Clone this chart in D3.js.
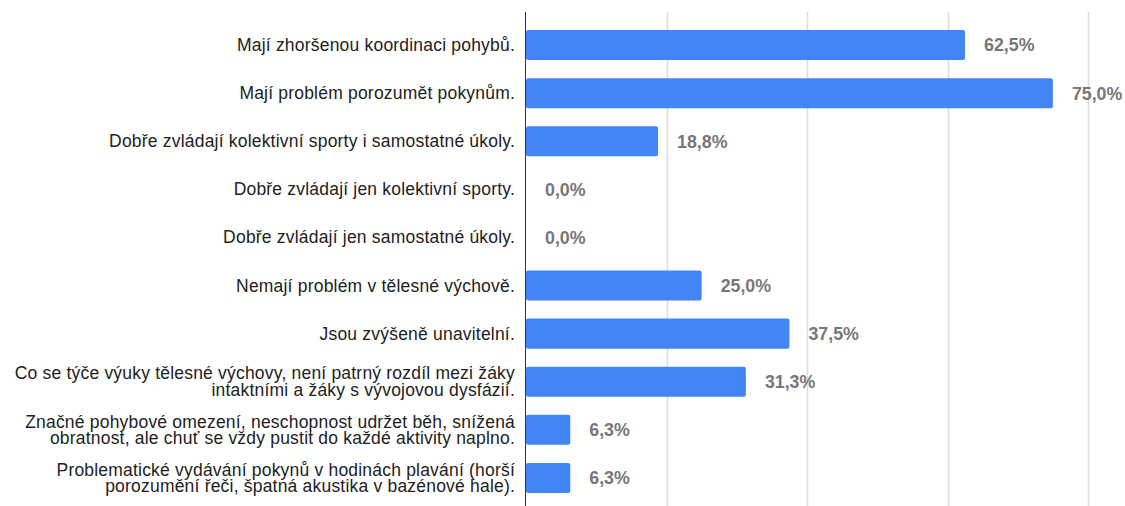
<!DOCTYPE html>
<html>
<head>
<meta charset="utf-8">
<script src="https://cdn.jsdelivr.net/npm/d3@7"></script>
<style>
  body { margin: 0; background: #fff; }
  svg { display: block; font-family: "Liberation Sans", Arial, Helvetica, sans-serif; }
</style>
</head>
<body>
<div id="chart"></div>
<script>
const WIDTH = 1125
const HEIGHT = 506

// data
const categories = [
  ['Mají zhoršenou koordinaci pohybů.'],
  ['Mají problém porozumět pokynům.'],
  ['Dobře zvládají kolektivní sporty i samostatné úkoly.'],
  ['Dobře zvládají jen kolektivní sporty.'],
  ['Dobře zvládají jen samostatné úkoly.'],
  ['Nemají problém v tělesné výchově.'],
  ['Jsou zvýšeně unavitelní.'],
  ['Co se týče výuky tělesné výchovy, není patrný rozdíl mezi žáky', 'intaktními a žáky s vývojovou dysfázií.'],
  ['Značné pohybové omezení, neschopnost udržet běh, snížená', 'obratnost, ale chuť se vždy pustit do každé aktivity naplno.'],
  ['Problematické vydávání pokynů v hodinách plavání (horší', 'porozumění řeči, špatná akustika v bazénové hale).']
]
const values = [62.5, 75.0, 18.8, 0.0, 0.0, 25.0, 37.5, 31.3, 6.3, 6.3]
const gridTicks = [0, 20, 40, 60, 80]

const MARGIN = { top: 12, right: 37, bottom: -5, left: 526 }
const LINE_HEIGHT = 16.5

const data = categories.map((c, i) => ({ id: i, lines: c, value: values[i] }))

const svg = d3.select('#chart')
  .append('svg')
    .attr('width', WIDTH)
    .attr('height', HEIGHT)

const x = d3.scaleLinear()
  .domain([0, 80])
  .range([MARGIN.left, WIDTH - MARGIN.right])

const y = d3.scaleBand()
  .domain(data.map((d) => d.id))
  .range([MARGIN.top, HEIGHT - MARGIN.bottom])
  .paddingInner(0.375)
  .paddingOuter(0.375)

const fmt = (v) => d3.format('.1f')(v).replace('.', ',') + '%'

// gridlines
svg.append('g')
    .attr('class', 'grid')
  .selectAll('line')
  .data(gridTicks.slice(1))
  .enter().append('line')
    .attr('x1', (d) => Math.round(x(d)) + 0.5)
    .attr('x2', (d) => Math.round(x(d)) + 0.5)
    .attr('y1', MARGIN.top)
    .attr('y2', HEIGHT)
    .attr('stroke', '#dcdcdc')
    .attr('stroke-width', 1.5)

// bars
svg.append('g')
  .selectAll('rect')
  .data(data.filter((d) => d.value > 0))
  .enter().append('rect')
    .attr('x', x(0))
    .attr('y', (d) => y(d.id))
    .attr('width', (d) => x(d.value) - x(0))
    .attr('height', y.bandwidth())
    .attr('rx', 2)
    .attr('fill', '#4285f4')

// axis line
svg.append('line')
  .attr('x1', x(0) - 0.5)
  .attr('x2', x(0) - 0.5)
  .attr('y1', MARGIN.top)
  .attr('y2', HEIGHT)
  .attr('stroke', '#333')
  .attr('stroke-width', 1)

// value labels
svg.append('g')
  .selectAll('text')
  .data(data)
  .enter().append('text')
    .attr('x', (d) => x(d.value) + 19)
    .attr('y', (d) => y(d.id) + y.bandwidth() / 2)
    .attr('dy', '0.36em')
    .attr('fill', '#777')
    .attr('font-weight', 'bold')
    .attr('font-size', 17.8)
    .text((d) => fmt(d.value))

// category labels
const labels = svg.append('g')
  .selectAll('text')
  .data(data)
  .enter().append('text')
    .attr('text-anchor', 'end')
    .attr('fill', '#222')
    .attr('font-size', 17.5)
    .attr('letter-spacing', 0.2)
    .attr('y', (d) => y(d.id) + y.bandwidth() / 2 + 6 - (d.lines.length - 1) * LINE_HEIGHT / 2)

labels.selectAll('tspan')
  .data((d) => d.lines.map((l, i) => ({ text: l, i: i })))
  .enter().append('tspan')
    .attr('x', x(0) - 11)
    .attr('dy', (t) => t.i === 0 ? 0 : LINE_HEIGHT)
    .text((t) => t.text)
</script>
</body>
</html>
